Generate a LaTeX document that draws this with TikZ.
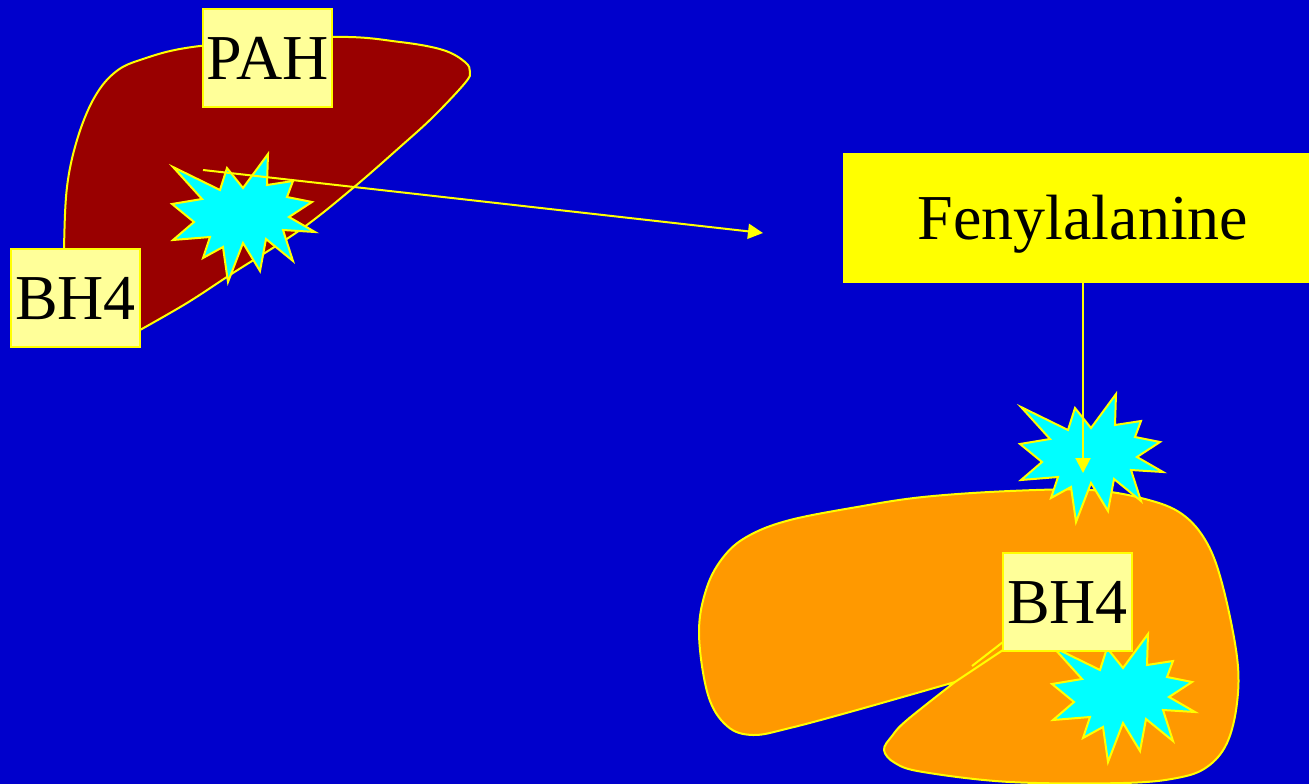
\documentclass[tikz,border=0pt]{standalone}
\usepackage{fontspec}
\setmainfont{Liberation Serif}
\usetikzlibrary{arrows.meta}

\definecolor{slideblue}{RGB}{0,0,204}
\definecolor{liverred}{RGB}{153,0,0}
\definecolor{liverorange}{RGB}{255,153,0}
\definecolor{paleyellow}{RGB}{255,255,153}
\definecolor{brightyellow}{RGB}{255,255,0}
\definecolor{brightcyan}{RGB}{0,255,255}

\tikzset{
  organ/.style={draw=brightyellow, line width=2pt, line join=round},
  burst/.style={fill=brightcyan, draw=brightyellow, line width=2pt},
  tag/.style={fill=paleyellow, draw=brightyellow, line width=1.5pt, inner sep=0pt,
    minimum width=129pt, minimum height=98pt,
    text height=42pt, text depth=0pt, font=\fontsize{64}{70}\selectfont},
  flow/.style={draw=brightyellow, line width=2pt, -{Triangle[length=15pt,width=15pt]}}
}

% twelve-point explosion, drawn round the given centre
\newcommand{\drawburst}[1]{%
  \draw[burst, shift={#1}] (25,-64) -- (24,-33) -- (50,-37) -- (44,-21) -- (69,-16)
    -- (46,-1) -- (72,14) -- (40,12) -- (50,43) -- (23,21) -- (17,53) -- (0,25)
    -- (-15,64) -- (-20,29) -- (-40,40) -- (-33,19) -- (-70,22) -- (-49,4)
    -- (-71,-14) -- (-41,-19) -- (-70,-51) -- (-23,-28) -- (-16,-50) -- (0,-30) -- cycle;}

\begin{document}
\begin{tikzpicture}[x=1pt, y=-1pt]
  \useasboundingbox (0,0) rectangle (1309,784);
  \fill[slideblue] (0,0) rectangle (1309,784);
  \clip (0,0) rectangle (1309,784);

  % liver
  \draw[organ, fill=liverred] plot[smooth, tension=0.6] coordinates {(64,300) (64,248)
    (67,187) (77,140) (93,100) (113,74) (140,60) (200,46) (333,37) (400,42)
    (443,50) (465,62) (470,72) (465,83) (433,117) (400,147) (353,188) (300,230)
    (233,273) (187,303) (140,330)} -- cycle;
  \drawburst{(243,218)}
  \coordinate (pahsite) at (203,170);
  \coordinate (pahtarget) at (763,233);
  \draw[flow] (pahsite) -- (pahtarget);
  \node[tag] (pah) at (267.5,58) {PAH};
  \node[tag] (bhfour) at (75.5,298) {BH4};

  \node[fill=brightyellow, inner sep=0pt, minimum width=480pt, minimum height=130pt,
    text height=42pt, text depth=0pt, font=\fontsize{64}{70}\selectfont]
    (fenyl) at (1083,218) {Fenylalanine};

  % brain
  \draw[organ, fill=liverorange] plot[smooth, tension=0.6] coordinates {(955,682)
    (857,710) (790,728) (753,735) (727,726) (708,695) (699,633) (707,587) (725,555)
    (750,535) (790,520) (857,507) (923,497) (1010,491) (1090,490) (1145,499)
    (1182,514) (1207,543) (1223,587) (1237,657) (1237,703) (1227,743) (1207,767)
    (1177,778) (1123,783) (1010,782) (923,772) (895,763) (884,750) (892,736)
    (907,720) (955,682)} -- (1003,650) -- cycle;
  \draw[organ] (1003,642) -- (972,666);
  \drawburst{(1091,458)}
  \coordinate (fenyltarget) at (1083,473);
  \draw[flow] (fenyl.south) -- (fenyltarget);
  \drawburst{(1123,698)}
  \node[tag] (bhfourb) at (1067.5,602) {BH4};
\end{tikzpicture}
\end{document}
